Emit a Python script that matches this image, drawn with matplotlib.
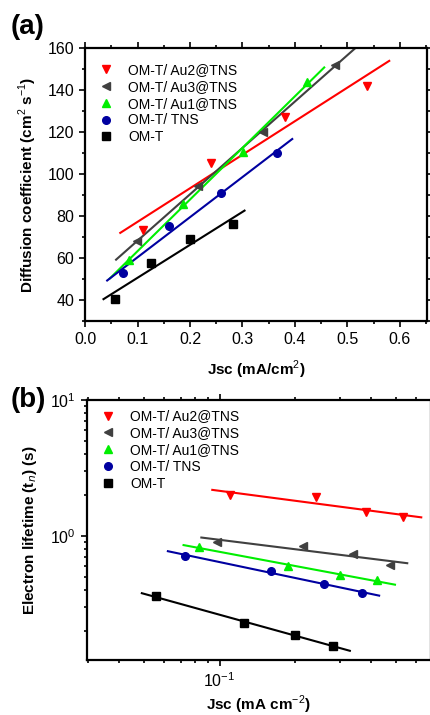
import numpy as np
import matplotlib
matplotlib.use('Agg')
import matplotlib.pyplot as plt
from matplotlib.ticker import MultipleLocator, LogLocator, NullFormatter

plt.rcParams['font.family'] = ['Liberation Sans', 'DejaVu Sans']
plt.rcParams['mathtext.fontset'] = 'custom'
plt.rcParams['mathtext.rm'] = 'Liberation Sans'
plt.rcParams['mathtext.bf'] = 'Liberation Sans:bold'

# series (legend order)
labels = ['OM-T/ Au2@TNS', 'OM-T/ Au3@TNS', 'OM-T/ Au1@TNS', 'OM-T/ TNS', 'OM-T']
colors = ['#FF0000', '#404040', '#00EE00', '#0000A0', '#000000']
markers = ['v', '<', '^', 'o', 's']

# Jsc (mA/cm2)
jsc_au2 = [0.110, 0.241, 0.381, 0.537]
jsc_au3 = [0.098, 0.215, 0.340, 0.477]
jsc_au1 = [0.083, 0.187, 0.302, 0.423]
jsc_tns = [0.073, 0.160, 0.259, 0.366]
jsc_omt = [0.056, 0.125, 0.200, 0.282]

# diffusion coefficient (cm2 s-1)
dn_au2 = [73.3, 105.0, 127.2, 142.1]
dn_au3 = [67.9, 94.2, 119.9, 152.1]
dn_au1 = [59.2, 85.7, 110.5, 143.8]
dn_tns = [52.7, 75.2, 91.0, 109.9]
dn_omt = [40.5, 57.6, 69.2, 76.3]

# electron lifetime (s)
tau_au2 = [1.99, 1.94, 1.50, 1.38]
tau_au3 = [0.90, 0.84, 0.742, 0.608]
tau_au1 = [0.83, 0.598, 0.513, 0.477]
tau_tns = [0.712, 0.556, 0.446, 0.380]
tau_omt = [0.360, 0.229, 0.186, 0.157]

# x-range of the fitted lines
fit_a = [(0.067, 0.580), (0.059, 0.530), (0.047, 0.456), (0.042, 0.395), (0.035, 0.304)]
fit_b = [(0.0935, 0.632), (0.0846, 0.556), (0.0719, 0.497), (0.0623, 0.430), (0.0491, 0.329)]

jsc = [jsc_au2, jsc_au3, jsc_au1, jsc_tns, jsc_omt]
dn = [dn_au2, dn_au3, dn_au1, dn_tns, dn_omt]
tau = [tau_au2, tau_au3, tau_au1, tau_tns, tau_omt]

fig = plt.figure(figsize=(4.30, 7.15), dpi=100)
ax1 = fig.add_axes([0.198, 0.551, 0.795, 0.382])
ax2 = fig.add_axes([0.202, 0.077, 0.80, 0.364])


def style(ax):
    for s in ax.spines.values():
        s.set_linewidth(1.6)
    ax.tick_params(which='both', direction='out', top=True, right=True,
                   labelsize=11.5, width=1.2)
    ax.tick_params(which='major', length=4.5)
    ax.tick_params(which='minor', length=2.5)


# (a) diffusion coefficient
for i in range(5):
    x = np.array(jsc[i]); y = np.array(dn[i])
    k, b = np.polyfit(x, y, 1)
    xf = np.array(fit_a[i])
    ax1.plot(xf, k * xf + b, color=colors[i], lw=1.5, zorder=2)
    ax1.plot(x, y, ls='none', marker=markers[i], color=colors[i], ms=5.5,
             label=labels[i], zorder=3)
ax1.set_xlim(0, 0.652)
ax1.set_ylim(30, 160)
ax1.xaxis.set_minor_locator(MultipleLocator(0.05))
ax1.yaxis.set_minor_locator(MultipleLocator(10))
ax1.set_xticks(np.arange(0, 0.61, 0.1))
ax1.set_xticklabels(['%.1f' % v for v in np.arange(0, 0.61, 0.1)])
ax1.set_yticks(np.arange(40, 161, 20))
style(ax1)
ax1.set_xlabel(r'Jsc (mA/cm$^{2}$)', fontsize=11, fontweight='bold', labelpad=8)
ax1.set_ylabel(r'Diffusion coefficient (cm$^{2}$ s$^{-1}$)', fontsize=11,
               fontweight='bold', labelpad=6)
ax1.legend(loc='upper left', frameon=False, fontsize=10, handletextpad=0.9,
           borderaxespad=0.4, labelspacing=0.2, handlelength=1.4,
           bbox_to_anchor=(0.0, 0.985))
fig.text(0.025, 0.962, '(a)', fontsize=20, fontweight='bold', va='center')

# (b) electron lifetime
for i in range(5):
    x = np.array(jsc[i]); y = np.array(tau[i])
    k, b = np.polyfit(np.log10(x), np.log10(y), 1)
    xf = np.array(fit_b[i])
    ax2.plot(xf, 10 ** (k * np.log10(xf) + b), color=colors[i], lw=1.5, zorder=2)
    ax2.plot(x, y, ls='none', marker=markers[i], color=colors[i], ms=5.5,
             label=labels[i], zorder=3)
ax2.set_xscale('log')
ax2.set_yscale('log')
ax2.set_xlim(0.0297, 0.69)
ax2.set_ylim(0.123, 10)
ax2.xaxis.set_major_locator(LogLocator(base=10))
ax2.xaxis.set_minor_locator(LogLocator(base=10, subs=np.arange(2, 10)))
ax2.xaxis.set_minor_formatter(NullFormatter())
ax2.yaxis.set_minor_locator(LogLocator(base=10, subs=np.arange(2, 10)))
ax2.yaxis.set_minor_formatter(NullFormatter())
style(ax2)
ax2.set_xlabel(r'Jsc (mA cm$^{-2}$)', fontsize=11, fontweight='bold', labelpad=3)
ax2.set_ylabel(r'Electron lifetime (t$_{n}$) (s)', fontsize=11,
               fontweight='bold', labelpad=8)
ax2.legend(loc='upper left', frameon=False, fontsize=10, handletextpad=0.9,
           borderaxespad=0.4, labelspacing=0.2, handlelength=1.4,
           bbox_to_anchor=(0.0, 1.005))
fig.text(0.025, 0.44, '(b)', fontsize=20, fontweight='bold', va='center')

fig.savefig('out.png', dpi=100)
